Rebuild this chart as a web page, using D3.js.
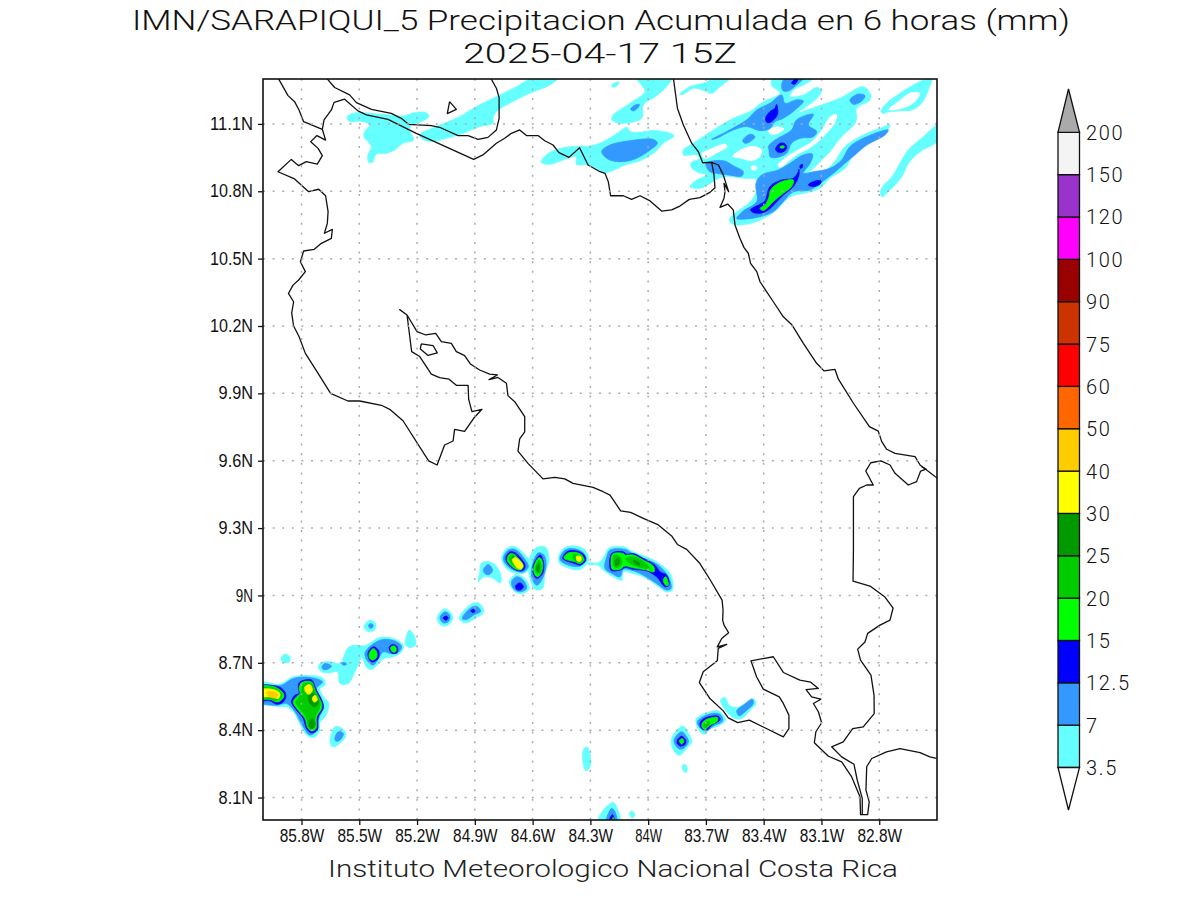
<!DOCTYPE html>
<html><head><meta charset="utf-8">
<script src="https://cdn.jsdelivr.net/npm/d3@7"></script>
<style>html,body{margin:0;background:#fff}svg{display:block}</style>
</head><body><svg id="c" width="1200" height="900"></svg>
<script>
const titleLine1="IMN/SARAPIQUI_5 Precipitacion Acumulada en 6 horas (mm)";
const titleLine2="2025-04-17 15Z";
const footerText="Instituto Meteorologico Nacional Costa Rica";
const xTicks=[-85.8,-85.5,-85.2,-84.9,-84.6,-84.3,-84,-83.7,-83.4,-83.1,-82.8];
const yTicks=[8.1,8.4,8.7,9,9.3,9.6,9.9,10.2,10.5,10.8,11.1];
const legendLabels=["3.5","7","12.5","15","20","25","30","40","50","60","75","90","100","120","150","200"];
const legendColors=["#66FFFF","#3399FF","#0000FF","#00FF00","#00CC00","#009900","#FFFF00","#FFCC00","#FF6600","#FF0000","#CC3300","#990000","#FF00FF","#9933CC","#F4F4F4"];

/* coast and border lines, lon/lat */
const lake=[[-85.671,11.305],[-85.628,11.262],[-85.55,11.229],[-85.515,11.195],[-85.437,11.165],[-85.334,11.147],[-85.282,11.125],[-85.244,11.098],[-85.126,11.092],[-85.083,11.085],[-84.987,11.048],[-84.935,11.048],[-84.883,11.031],[-84.832,11.04],[-84.788,11.073],[-84.774,11.125],[-84.774,11.217],[-84.788,11.259],[-84.818,11.305]];
const lakeIsland=[[-85.031,11.199],[-84.996,11.165],[-85.043,11.146],[-85.031,11.199]];
const chiraIsland=[[-85.178,10.12],[-85.117,10.113],[-85.095,10.08],[-85.143,10.069],[-85.183,10.098],[-85.178,10.12]];
const coastNicaragua=[[-85.922,11.305],[-85.87,11.226],[-85.836,11.199],[-85.813,11.162],[-85.789,11.11],[-85.692,11.076]];
const borderNorth=[[-85.692,11.076],[-85.683,11.118],[-85.645,11.162],[-85.631,11.196],[-85.576,11.21],[-85.507,11.158],[-85.463,11.14],[-85.351,11.12],[-85.204,11.058],[-84.906,10.942],[-84.858,10.962],[-84.788,11.014],[-84.745,11.036],[-84.71,11.058],[-84.667,11.073],[-84.632,11.048],[-84.572,11.048],[-84.537,11.025],[-84.494,11.006],[-84.463,10.972],[-84.411,10.951],[-84.356,10.994],[-84.312,10.917],[-84.25,10.887],[-84.224,10.88],[-84.207,10.843],[-84.195,10.78],[-84.129,10.78],[-84.086,10.764],[-84.042,10.78],[-83.99,10.757],[-83.93,10.712],[-83.878,10.717],[-83.835,10.734],[-83.786,10.764],[-83.731,10.772],[-83.679,10.795],[-83.653,10.816],[-83.658,10.873],[-83.67,10.929]];
const coastCaribbean=[[-83.869,11.305],[-83.848,11.17],[-83.817,11.095],[-83.774,11.014],[-83.739,10.976],[-83.717,10.927],[-83.67,10.929],[-83.635,10.917],[-83.61,10.873],[-83.582,10.798],[-83.606,10.835],[-83.601,10.798],[-83.606,10.769],[-83.627,10.728],[-83.587,10.743],[-83.558,10.717],[-83.549,10.65],[-83.523,10.59],[-83.502,10.549],[-83.48,10.524],[-83.468,10.479],[-83.436,10.442],[-83.419,10.397],[-83.385,10.353],[-83.35,10.308],[-83.298,10.241],[-83.255,10.207],[-83.194,10.123],[-83.125,10.034],[-83.087,10],[-83.03,10.007],[-83.012,9.963],[-82.934,9.856],[-82.851,9.752],[-82.805,9.732],[-82.787,9.685],[-82.761,9.651],[-82.718,9.633],[-82.614,9.618],[-82.588,9.581],[-82.498,9.522]];
const coastPacific=[[-85.692,11.076],[-85.675,11.028],[-85.72,11.048],[-85.752,11.021],[-85.714,10.991],[-85.692,10.959],[-85.718,10.921],[-85.775,10.932],[-85.815,10.914],[-85.853,10.942],[-85.922,10.887],[-85.836,10.855],[-85.763,10.798],[-85.711,10.809],[-85.675,10.78],[-85.662,10.709],[-85.666,10.657],[-85.681,10.613],[-85.64,10.63],[-85.645,10.59],[-85.697,10.568],[-85.735,10.541],[-85.789,10.534],[-85.806,10.486],[-85.78,10.442],[-85.815,10.405],[-85.844,10.382],[-85.868,10.345],[-85.841,10.308],[-85.851,10.257],[-85.841,10.2],[-85.813,10.153],[-85.78,10.078],[-85.714,9.989],[-85.649,9.9],[-85.559,9.866],[-85.498,9.866],[-85.385,9.847],[-85.342,9.829],[-85.273,9.778],[-85.14,9.599],[-85.096,9.581],[-85.057,9.67],[-85.013,9.688],[-85.005,9.74],[-84.953,9.731],[-84.906,9.789],[-84.863,9.829],[-84.915,9.819],[-84.932,9.873],[-84.935,9.936],[-84.996,9.936],[-85.034,9.963],[-85.083,9.97],[-85.126,9.986],[-85.186,10.064],[-85.228,10.086],[-85.252,10.249],[-85.29,10.273],[-85.252,10.249],[-85.2,10.175],[-85.155,10.16],[-85.103,10.167],[-85.074,10.13],[-85.022,10.123],[-84.996,10.086],[-84.953,10.068],[-84.923,10.031],[-84.875,10.004],[-84.823,9.986],[-84.783,9.982],[-84.826,9.961],[-84.78,9.971],[-84.736,9.945],[-84.728,9.89],[-84.693,9.863],[-84.641,9.796],[-84.641,9.729],[-84.667,9.697],[-84.676,9.643],[-84.624,9.588],[-84.546,9.519],[-84.485,9.526],[-84.433,9.519],[-84.39,9.499],[-84.286,9.481],[-84.234,9.462],[-84.198,9.447],[-84.143,9.377],[-84.091,9.37],[-84.025,9.343],[-83.947,9.314],[-83.878,9.265],[-83.848,9.227],[-83.8,9.205],[-83.731,9.142],[-83.679,9.071],[-83.616,8.979],[-83.611,8.935],[-83.613,8.89],[-83.606,8.868],[-83.582,8.834],[-83.618,8.808],[-83.641,8.771],[-83.592,8.782],[-83.636,8.764],[-83.641,8.709],[-83.714,8.66],[-83.734,8.612],[-83.679,8.541],[-83.61,8.486],[-83.584,8.455],[-83.535,8.434],[-83.475,8.445],[-83.298,8.37],[-83.269,8.407],[-83.269,8.467],[-83.298,8.519],[-83.319,8.548],[-83.402,8.583],[-83.437,8.638],[-83.466,8.709],[-83.35,8.727],[-83.298,8.657],[-83.212,8.623],[-83.156,8.614],[-83.116,8.586],[-83.18,8.581],[-83.151,8.548],[-83.103,8.538],[-83.142,8.519],[-83.116,8.482],[-83.099,8.433],[-83.129,8.393],[-83.137,8.344],[-83.064,8.284],[-82.995,8.259],[-82.943,8.192],[-82.9,8.103],[-82.897,8.024],[-82.86,8.024],[-82.852,8.081],[-82.869,8.133],[-82.865,8.237],[-82.839,8.274],[-82.762,8.303],[-82.692,8.318],[-82.588,8.3],[-82.537,8.281],[-82.502,8.274]];
const borderPanama=[[-82.888,8.024],[-82.888,8.096],[-82.914,8.177],[-82.931,8.248],[-82.995,8.281],[-83.047,8.326],[-82.987,8.348],[-82.938,8.407],[-82.883,8.415],[-82.826,8.474],[-82.827,8.556],[-82.843,8.645],[-82.897,8.712],[-82.912,8.761],[-82.874,8.793],[-82.86,8.831],[-82.796,8.868],[-82.744,8.89],[-82.728,8.944],[-82.77,8.993],[-82.848,9.042],[-82.936,9.064],[-82.934,9.202],[-82.934,9.44],[-82.903,9.477],[-82.865,9.492],[-82.831,9.492],[-82.87,9.554],[-82.844,9.591],[-82.791,9.599],[-82.744,9.581],[-82.718,9.544],[-82.649,9.492],[-82.606,9.507],[-82.585,9.554],[-82.557,9.563],[-82.58,9.573]];
const coastLines=[lake,lakeIsland,chiraIsland,coastNicaragua,borderNorth,coastCaribbean,coastPacific,borderPanama];

/* rainfall areas, lon/lat, one list per lower class bound */
const rain3p5=[
[[-85.562,11.132],[-85.533,11.147],[-85.498,11.15],[-85.351,11.14],[-85.273,11.135],[-85.212,11.15],[-85.152,11.15],[-85.14,11.132],[-85.178,11.11],[-85.23,11.095],[-85.238,11.073],[-85.218,11.028],[-85.273,11.014],[-85.316,10.984],[-85.36,10.969],[-85.411,10.966],[-85.432,10.929],[-85.451,10.929],[-85.455,10.962],[-85.437,10.999],[-85.475,11.043],[-85.472,11.066],[-85.446,11.095],[-85.498,11.113],[-85.55,11.11]],
[[-84.468,11.305],[-84.511,11.273],[-84.615,11.236],[-84.719,11.192],[-84.788,11.155],[-84.806,11.125],[-84.806,11.103],[-84.875,11.088],[-84.961,11.058],[-85.048,11.036],[-85.126,11.021],[-85.178,11.036],[-85.186,11.051],[-85.1,11.088],[-84.979,11.132],[-84.892,11.177],[-84.788,11.221],[-84.684,11.266],[-84.598,11.305]],
[[-84.555,10.929],[-84.529,10.962],[-84.468,10.988],[-84.399,10.999],[-84.295,11.003],[-84.25,11.014],[-84.189,11.043],[-84.137,11.073],[-84.112,11.085],[-84.086,11.063],[-83.956,11.07],[-83.866,11.048],[-83.921,11.014],[-83.964,10.976],[-84.034,10.939],[-84.12,10.917],[-84.198,10.887],[-84.224,10.883],[-84.312,10.917],[-84.373,10.92],[-84.373,10.954],[-84.442,10.939],[-84.511,10.92]],
[[-84.189,11.273],[-84.155,11.288],[-84.155,11.276],[-84.181,11.263]],
[[-84.06,11.305],[-83.921,11.305],[-83.878,11.305],[-83.904,11.266],[-83.964,11.221],[-84.025,11.184],[-84.034,11.125],[-84.146,11.103],[-84.189,11.118],[-84.181,11.14],[-84.094,11.192],[-84.016,11.244],[-84.034,11.273]],
[[-83.835,11.232],[-83.783,11.266],[-83.713,11.281],[-83.644,11.305],[-83.575,11.305],[-83.627,11.266],[-83.67,11.236],[-83.696,11.244],[-83.765,11.259],[-83.817,11.232]],
[[-83.817,10.984],[-83.765,11.014],[-83.661,11.073],[-83.558,11.125],[-83.471,11.155],[-83.402,11.199],[-83.359,11.214],[-83.315,11.236],[-83.359,11.273],[-83.35,11.305],[-83.142,11.305],[-83.194,11.273],[-83.246,11.251],[-83.263,11.221],[-83.194,11.229],[-83.125,11.262],[-83.099,11.251],[-83.116,11.221],[-83.177,11.177],[-83.229,11.147],[-83.125,11.177],[-83.004,11.214],[-82.882,11.266],[-82.848,11.236],[-82.848,11.207],[-82.917,11.17],[-82.921,11.11],[-83.004,11.036],[-83.056,10.976],[-83.108,10.932],[-83.142,10.902],[-83.177,10.873],[-83.116,10.873],[-83.038,10.925],[-82.978,10.999],[-82.882,11.051],[-82.796,11.08],[-82.744,11.095],[-82.779,11.051],[-82.865,11.006],[-82.934,10.962],[-82.978,10.902],[-83.056,10.858],[-83.108,10.813],[-83.194,10.791],[-83.263,10.776],[-83.333,10.717],[-83.402,10.679],[-83.471,10.657],[-83.558,10.653],[-83.578,10.672],[-83.54,10.709],[-83.488,10.739],[-83.445,10.783],[-83.436,10.85],[-83.506,10.858],[-83.61,10.865],[-83.731,10.813],[-83.783,10.821],[-83.748,10.85],[-83.696,10.873],[-83.748,10.887],[-83.779,10.91],[-83.774,10.929],[-83.731,10.947],[-83.748,10.962],[-83.817,10.962]],
[[-82.791,11.155],[-82.761,11.192],[-82.692,11.236],[-82.606,11.281],[-82.528,11.305],[-82.545,11.251],[-82.58,11.192],[-82.632,11.162],[-82.709,11.158],[-82.761,11.152],[-82.782,11.147]],
[[-82.787,10.776],[-82.791,10.806],[-82.727,10.873],[-82.683,10.939],[-82.649,10.984],[-82.571,11.043],[-82.493,11.095],[-82.493,11.028],[-82.588,10.976],[-82.649,10.924],[-82.683,10.865],[-82.744,10.806]],
[[-86.016,8.611],[-85.912,8.605],[-85.843,8.638],[-85.739,8.642],[-85.687,8.63],[-85.678,8.6],[-85.704,8.586],[-85.687,8.549],[-85.658,8.519],[-85.678,8.459],[-85.704,8.437],[-85.708,8.393],[-85.739,8.367],[-85.774,8.378],[-85.8,8.415],[-85.843,8.482],[-85.878,8.504],[-85.912,8.504],[-85.964,8.511],[-86.016,8.519]],
[[-85.907,8.719],[-85.886,8.739],[-85.86,8.727],[-85.864,8.704],[-85.891,8.7]],
[[-85.713,8.685],[-85.687,8.704],[-85.644,8.704],[-85.601,8.697],[-85.557,8.768],[-85.514,8.779],[-85.471,8.776],[-85.393,8.813],[-85.324,8.808],[-85.272,8.779],[-85.28,8.749],[-85.324,8.727],[-85.375,8.719],[-85.401,8.697],[-85.436,8.67],[-85.462,8.679],[-85.488,8.727],[-85.5,8.704],[-85.523,8.66],[-85.557,8.608],[-85.601,8.608],[-85.613,8.66],[-85.661,8.655],[-85.696,8.66]],
[[-85.476,8.863],[-85.445,8.89],[-85.415,8.875],[-85.419,8.848],[-85.445,8.838],[-85.466,8.846]],
[[-85.26,8.801],[-85.241,8.845],[-85.216,8.823],[-85.208,8.779],[-85.237,8.768],[-85.26,8.779]],
[[-85.652,8.348],[-85.627,8.415],[-85.592,8.41],[-85.569,8.378],[-85.601,8.341],[-85.639,8.326]],
[[-85.095,8.905],[-85.055,8.941],[-85.017,8.912],[-85.021,8.883],[-85.055,8.863],[-85.085,8.875]],
[[-84.981,8.897],[-84.925,8.957],[-84.882,8.967],[-84.853,8.927],[-84.891,8.902],[-84.951,8.878]],
[[-84.874,9.105],[-84.865,9.145],[-84.813,9.147],[-84.775,9.113],[-84.762,9.07],[-84.77,9.056],[-84.804,9.076],[-84.853,9.083],[-84.882,9.061]],
[[-84.761,9.165],[-84.735,9.209],[-84.691,9.217],[-84.639,9.18],[-84.613,9.15],[-84.631,9.105],[-84.683,9.098],[-84.735,9.12]],
[[-84.613,9.172],[-84.587,9.209],[-84.536,9.217],[-84.515,9.165],[-84.536,9.098],[-84.549,9.031],[-84.587,9.027],[-84.613,9.076],[-84.622,9.128]],
[[-84.721,9.061],[-84.691,9.091],[-84.639,9.076],[-84.617,9.031],[-84.648,9.009],[-84.691,9.016]],
[[-84.466,9.165],[-84.44,9.209],[-84.388,9.221],[-84.328,9.202],[-84.31,9.157],[-84.354,9.116],[-84.406,9.12],[-84.458,9.142]],
[[-84.31,9.145],[-84.259,9.145],[-84.224,9.18],[-84.207,9.209],[-84.129,9.217],[-84.077,9.194],[-84.008,9.172],[-83.956,9.15],[-83.886,9.098],[-83.874,9.024],[-83.904,9.016],[-83.947,9.039],[-84.008,9.076],[-84.077,9.098],[-84.129,9.105],[-84.137,9.068],[-84.181,9.083],[-84.233,9.113],[-84.259,9.135],[-84.31,9.137]],
[[-84.337,8.311],[-84.319,8.326],[-84.302,8.296],[-84.302,8.237],[-84.323,8.219],[-84.337,8.251]],
[[-83.878,8.363],[-83.843,8.407],[-83.817,8.418],[-83.786,8.378],[-83.774,8.348],[-83.8,8.318],[-83.835,8.289],[-83.856,8.296],[-83.878,8.333]],
[[-83.823,8.241],[-83.809,8.248],[-83.797,8.229],[-83.804,8.21],[-83.817,8.219]],
[[-83.752,8.445],[-83.731,8.464],[-83.679,8.482],[-83.636,8.486],[-83.598,8.445],[-83.636,8.418],[-83.679,8.407],[-83.705,8.382],[-83.731,8.393]],
[[-83.624,8.534],[-83.601,8.545],[-83.579,8.511],[-83.54,8.501],[-83.497,8.519],[-83.457,8.541],[-83.44,8.519],[-83.463,8.496],[-83.515,8.452],[-83.549,8.452],[-83.592,8.482]],
[[-84.259,7.99],[-84.233,8.044],[-84.181,8.078],[-84.164,8.058],[-84.146,7.99]],
[[-84.098,8.029],[-84.086,8.039],[-84.068,8.024],[-84.082,8.009]]
];
const rainGaps=[
[[-83.722,10.969],[-83.67,10.991],[-83.601,11.011],[-83.587,10.999],[-83.644,10.969],[-83.705,10.944]],
[[-83.563,10.954],[-83.523,10.984],[-83.454,11.002],[-83.41,10.984],[-83.419,10.954],[-83.462,10.935],[-83.523,10.947]],
[[-83.468,10.91],[-83.44,10.914],[-83.433,10.899],[-83.457,10.892]],
[[-83.376,11.069],[-83.333,11.088],[-83.294,11.077],[-83.333,11.054],[-83.367,11.054]],
[[-83.327,10.917],[-83.281,10.954],[-83.211,10.991],[-83.151,11.021],[-83.099,11.073],[-83.056,11.132],[-83.021,11.143],[-83.03,11.103],[-83.073,11.058],[-83.116,11.021],[-83.177,10.984],[-83.229,10.962],[-83.281,10.925],[-83.315,10.905]],
[[-82.753,11.162],[-82.692,11.207],[-82.632,11.241],[-82.588,11.236],[-82.614,11.199],[-82.675,11.17]]
];
const rain7=[
[[-83.67,11.031],[-83.592,11.066],[-83.488,11.118],[-83.436,11.162],[-83.367,11.192],[-83.307,11.229],[-83.289,11.192],[-83.229,11.207],[-83.194,11.202],[-83.237,11.162],[-83.298,11.125],[-83.341,11.11],[-83.367,11.08],[-83.419,11.07],[-83.488,11.088],[-83.558,11.073],[-83.644,11.036]],
[[-83.376,10.999],[-83.341,11.028],[-83.255,11.073],[-83.229,11.118],[-83.142,11.143],[-83.168,11.095],[-83.125,11.066],[-83.142,11.043],[-83.211,11.036],[-83.255,11.014],[-83.281,10.969],[-83.333,10.95],[-83.367,10.954],[-83.372,10.984]],
[[-83.509,11.025],[-83.471,11.054],[-83.445,11.043],[-83.471,11.021],[-83.497,11.014]],
[[-83.307,11.266],[-83.289,11.305],[-83.194,11.305],[-83.229,11.273],[-83.272,11.247],[-83.298,11.247]],
[[-82.952,11.207],[-82.908,11.233],[-82.874,11.226],[-82.891,11.202],[-82.934,11.187]],
[[-83.7,10.924],[-83.61,10.936],[-83.558,10.914],[-83.506,10.887],[-83.514,10.868],[-83.584,10.873],[-83.644,10.88],[-83.679,10.887]],
[[-83.54,10.679],[-83.506,10.712],[-83.436,10.754],[-83.44,10.835],[-83.41,10.873],[-83.324,10.895],[-83.263,10.925],[-83.194,10.962],[-83.146,10.965],[-83.159,10.925],[-83.194,10.88],[-83.142,10.887],[-83.056,10.902],[-82.995,10.939],[-82.952,10.999],[-82.865,11.043],[-82.753,11.073],[-82.77,11.051],[-82.865,11.006],[-82.926,10.962],[-82.978,10.925],[-83.038,10.88],[-83.108,10.835],[-83.159,10.806],[-83.246,10.798],[-83.298,10.754],[-83.35,10.709],[-83.419,10.687],[-83.488,10.677]],
[[-84.241,10.979],[-84.198,11.006],[-84.094,11.025],[-83.973,11.031],[-83.952,11.014],[-83.99,10.984],[-84.06,10.947],[-84.129,10.932],[-84.198,10.939],[-84.233,10.962]],
[[-84.091,11.165],[-84.068,11.184],[-84.046,11.187],[-84.051,11.174],[-84.077,11.158]],
[[-86.016,8.593],[-85.903,8.6],[-85.843,8.63],[-85.756,8.635],[-85.691,8.615],[-85.722,8.586],[-85.704,8.534],[-85.687,8.511],[-85.713,8.445],[-85.722,8.4],[-85.756,8.378],[-85.791,8.415],[-85.834,8.482],[-85.878,8.519],[-85.929,8.511],[-86.016,8.526]],
[[-85.694,8.682],[-85.678,8.697],[-85.644,8.685],[-85.67,8.67],[-85.687,8.67]],
[[-85.592,8.697],[-85.575,8.701],[-85.566,8.693],[-85.583,8.69]],
[[-85.471,8.742],[-85.436,8.779],[-85.375,8.804],[-85.306,8.794],[-85.28,8.771],[-85.306,8.742],[-85.341,8.742],[-85.375,8.749],[-85.401,8.719],[-85.427,8.69],[-85.453,8.704]],
[[-85.453,8.865],[-85.44,8.875],[-85.427,8.865],[-85.44,8.853]],
[[-85.627,8.363],[-85.609,8.393],[-85.583,8.385],[-85.601,8.355],[-85.621,8.351]],
[[-85.081,8.902],[-85.055,8.927],[-85.029,8.909],[-85.038,8.883],[-85.064,8.878]],
[[-84.965,8.897],[-84.925,8.942],[-84.891,8.952],[-84.87,8.93],[-84.908,8.912],[-84.943,8.893]],
[[-84.856,9.113],[-84.83,9.138],[-84.808,9.113],[-84.825,9.093],[-84.848,9.098]],
[[-84.752,9.165],[-84.726,9.202],[-84.691,9.205],[-84.639,9.16],[-84.622,9.128],[-84.648,9.105],[-84.691,9.11],[-84.735,9.135]],
[[-84.596,9.15],[-84.57,9.19],[-84.541,9.18],[-84.53,9.135],[-84.553,9.068],[-84.579,9.046],[-84.605,9.083]],
[[-84.709,9.061],[-84.683,9.083],[-84.648,9.068],[-84.631,9.031],[-84.665,9.016],[-84.7,9.031]],
[[-84.458,9.165],[-84.432,9.202],[-84.388,9.209],[-84.336,9.19],[-84.323,9.157],[-84.354,9.131],[-84.397,9.131],[-84.449,9.15]],
[[-84.224,9.12],[-84.215,9.172],[-84.198,9.202],[-84.12,9.205],[-84.077,9.184],[-84.008,9.16],[-83.947,9.135],[-83.895,9.083],[-83.881,9.031],[-83.904,9.024],[-83.956,9.053],[-84.016,9.086],[-84.077,9.11],[-84.129,9.116],[-84.146,9.083],[-84.189,9.098]],
[[-83.866,8.355],[-83.826,8.393],[-83.8,8.37],[-83.791,8.348],[-83.817,8.318],[-83.843,8.318]],
[[-83.745,8.437],[-83.722,8.456],[-83.67,8.474],[-83.627,8.471],[-83.613,8.442],[-83.662,8.418],[-83.696,8.397],[-83.727,8.407]],
[[-83.54,8.486],[-83.506,8.511],[-83.459,8.537],[-83.454,8.519],[-83.497,8.482],[-83.527,8.464]],
[[-84.216,7.99],[-84.19,8.051],[-84.172,8.036],[-84.164,7.99]]
];
const rain12p5=[
[[-83.39,11.125],[-83.367,11.155],[-83.341,11.17],[-83.333,11.187],[-83.327,11.147],[-83.341,11.125],[-83.367,11.107],[-83.384,11.107]],
[[-83.338,10.988],[-83.315,11.014],[-83.289,11.011],[-83.281,10.991],[-83.307,10.973],[-83.329,10.976]],
[[-83.468,10.717],[-83.419,10.742],[-83.393,10.757],[-83.367,10.821],[-83.307,10.85],[-83.246,10.858],[-83.22,10.887],[-83.217,10.898],[-83.217,10.873],[-83.246,10.821],[-83.298,10.783],[-83.341,10.746],[-83.376,10.717],[-83.419,10.702],[-83.454,10.706]],
[[-83.168,10.828],[-83.142,10.843],[-83.102,10.846],[-83.108,10.831],[-83.142,10.821]],
[[-83.211,10.914],[-83.199,10.92],[-83.199,10.907],[-83.21,10.902]],
[[-83.255,11.281],[-83.229,11.305],[-83.22,11.305],[-83.237,11.278]],
[[-86.016,8.596],[-85.955,8.6],[-85.903,8.586],[-85.881,8.556],[-85.895,8.526],[-85.929,8.516],[-85.964,8.531],[-86.016,8.534]],
[[-85.817,8.593],[-85.808,8.615],[-85.748,8.623],[-85.73,8.593],[-85.722,8.578],[-85.691,8.526],[-85.687,8.497],[-85.713,8.459],[-85.718,8.4],[-85.748,8.388],[-85.774,8.407],[-85.791,8.452],[-85.826,8.489],[-85.852,8.526],[-85.834,8.556],[-85.813,8.563]],
[[-85.453,8.749],[-85.427,8.771],[-85.401,8.756],[-85.401,8.719],[-85.436,8.704],[-85.453,8.727]],
[[-85.344,8.771],[-85.324,8.782],[-85.303,8.771],[-85.303,8.746],[-85.327,8.742],[-85.341,8.753]],
[[-85.064,8.9],[-85.05,8.908],[-85.038,8.9],[-85.05,8.89]],
[[-84.92,8.933],[-84.905,8.938],[-84.9,8.927],[-84.913,8.924]],
[[-84.688,9.042],[-84.665,9.056],[-84.648,9.039],[-84.665,9.024],[-84.683,9.027]],
[[-84.738,9.172],[-84.717,9.194],[-84.691,9.19],[-84.639,9.135],[-84.648,9.113],[-84.674,9.11],[-84.709,9.125],[-84.735,9.15]],
[[-84.596,9.135],[-84.561,9.18],[-84.544,9.15],[-84.548,9.098],[-84.579,9.076],[-84.596,9.098]],
[[-84.444,9.165],[-84.423,9.194],[-84.38,9.199],[-84.336,9.184],[-84.324,9.157],[-84.354,9.135],[-84.38,9.142],[-84.432,9.157]],
[[-84.198,9.12],[-84.189,9.187],[-84.129,9.194],[-84.111,9.184],[-84.077,9.187],[-84.025,9.165],[-83.964,9.135],[-83.938,9.105],[-83.904,9.091],[-83.892,9.046],[-83.912,9.039],[-83.956,9.083],[-84.008,9.11],[-84.077,9.116],[-84.12,9.125],[-84.146,9.113],[-84.189,9.11]],
[[-83.849,8.355],[-83.826,8.373],[-83.805,8.355],[-83.809,8.336],[-83.831,8.329],[-83.849,8.341]],
[[-83.731,8.43],[-83.71,8.452],[-83.636,8.462],[-83.627,8.447],[-83.67,8.422],[-83.696,8.4],[-83.722,8.407]],
[[-84.202,7.99],[-84.186,8.024],[-84.176,7.99]]
];
const rain15=[
[[-83.419,10.724],[-83.393,10.739],[-83.372,10.776],[-83.364,10.806],[-83.315,10.84],[-83.246,10.85],[-83.255,10.821],[-83.298,10.791],[-83.35,10.754],[-83.384,10.724],[-83.405,10.714]],
[[-83.315,10.999],[-83.294,11.002],[-83.294,10.994],[-83.313,10.993]],
[[-86.016,8.593],[-85.955,8.596],[-85.909,8.578],[-85.891,8.552],[-85.921,8.526],[-85.964,8.537],[-86.016,8.541]],
[[-85.812,8.586],[-85.8,8.611],[-85.748,8.615],[-85.73,8.578],[-85.696,8.519],[-85.696,8.497],[-85.722,8.459],[-85.725,8.407],[-85.748,8.396],[-85.768,8.412],[-85.782,8.452],[-85.817,8.489],[-85.843,8.526],[-85.826,8.548],[-85.808,8.563]],
[[-85.448,8.742],[-85.427,8.764],[-85.41,8.749],[-85.41,8.724],[-85.433,8.712],[-85.448,8.724]],
[[-85.337,8.768],[-85.32,8.776],[-85.308,8.764],[-85.311,8.749],[-85.329,8.749]],
[[-84.731,9.169],[-84.714,9.187],[-84.691,9.18],[-84.648,9.131],[-84.657,9.116],[-84.683,9.116],[-84.714,9.135],[-84.729,9.15]],
[[-84.593,9.128],[-84.565,9.169],[-84.549,9.15],[-84.553,9.105],[-84.575,9.083],[-84.591,9.098]],
[[-84.437,9.168],[-84.42,9.187],[-84.38,9.192],[-84.345,9.18],[-84.333,9.157],[-84.357,9.142],[-84.38,9.15],[-84.432,9.162]],
[[-84.191,9.128],[-84.184,9.184],[-84.129,9.187],[-84.12,9.18],[-84.077,9.18],[-84.025,9.157],[-83.973,9.131],[-83.969,9.105],[-84.008,9.113],[-84.077,9.123],[-84.12,9.131],[-84.146,9.117],[-84.184,9.116]],
[[-83.921,9.068],[-83.909,9.083],[-83.895,9.046],[-83.909,9.046]],
[[-83.838,8.352],[-83.823,8.363],[-83.814,8.348],[-83.826,8.338]],
[[-83.721,8.427],[-83.7,8.447],[-83.639,8.456],[-83.644,8.437],[-83.679,8.422],[-83.705,8.403],[-83.719,8.412]],
[[-84.191,7.99],[-84.181,8.011],[-84.176,7.99]]
];
const rain20=[
[[-86.016,8.586],[-85.947,8.589],[-85.912,8.571],[-85.903,8.551],[-85.929,8.534],[-85.973,8.541],[-86.016,8.549]],
[[-85.8,8.578],[-85.791,8.605],[-85.748,8.608],[-85.725,8.563],[-85.704,8.526],[-85.708,8.497],[-85.73,8.459],[-85.73,8.415],[-85.753,8.404],[-85.765,8.422],[-85.777,8.459],[-85.817,8.504],[-85.829,8.526],[-85.812,8.548]],
[[-84.722,9.165],[-84.709,9.18],[-84.665,9.142],[-84.657,9.123],[-84.683,9.123],[-84.709,9.142]],
[[-84.584,9.128],[-84.567,9.157],[-84.556,9.135],[-84.565,9.098],[-84.584,9.105]],
[[-84.388,9.184],[-84.354,9.175],[-84.34,9.157],[-84.362,9.147],[-84.385,9.157]],
[[-84.181,9.157],[-84.175,9.18],[-84.146,9.172],[-84.137,9.142],[-84.155,9.125],[-84.177,9.128]],
[[-84.117,9.165],[-84.077,9.172],[-84.016,9.145],[-83.99,9.12],[-84.042,9.125],[-84.094,9.142]],
[[-83.714,8.422],[-83.696,8.437],[-83.679,8.437],[-83.696,8.412],[-83.708,8.412]]
];
const rain25=[
[[-85.765,8.556],[-85.739,8.563],[-85.713,8.526],[-85.73,8.504],[-85.756,8.519]],
[[-85.76,8.437],[-85.742,8.452],[-85.73,8.43],[-85.742,8.407],[-85.76,8.415]],
[[-84.703,9.172],[-84.691,9.169],[-84.665,9.125],[-84.683,9.128],[-84.703,9.154]],
[[-84.579,9.128],[-84.567,9.142],[-84.567,9.105],[-84.579,9.11]],
[[-84.172,9.157],[-84.155,9.165],[-84.149,9.142],[-84.167,9.132]],
[[-84.077,9.157],[-84.051,9.15],[-84.042,9.135],[-84.068,9.142]]
];
const rain30=[
[[-86.016,8.578],[-85.947,8.581],[-85.912,8.563],[-85.921,8.541],[-85.955,8.549],[-86.016,8.551]],
[[-85.782,8.593],[-85.756,8.603],[-85.744,8.578],[-85.76,8.56],[-85.779,8.571]],
[[-85.744,8.541],[-85.73,8.556],[-85.718,8.534],[-85.734,8.525]],
[[-84.705,9.16],[-84.691,9.169],[-84.651,9.135],[-84.662,9.117],[-84.683,9.125]],
[[-84.371,9.175],[-84.35,9.172],[-84.349,9.154],[-84.368,9.154]]
];
const rain40=[
[[-85.981,8.568],[-85.947,8.572],[-85.921,8.556],[-85.938,8.544],[-85.973,8.553]]
];
const rainByClass=[rain3p5,rain7,rain12p5,rain15,rain20,rain25,rain30,rain40];

const svg=d3.select("#c");
const x=d3.scaleLinear().domain([-86,-82.5]).range([263,937]);
const y=d3.scaleLinear().domain([8,11.3]).range([820,79]);

svg.append("defs").append("clipPath").attr("id","panel").append("rect")
  .attr("x",263).attr("y",79).attr("width",674).attr("height",741);
const map=svg.append("g").attr("clip-path","url(#panel)");

const area=d3.line().x(d=>x(d[0])).y(d=>y(d[1])).curve(d3.curveCatmullRomClosed.alpha(0.5));
const trace=d3.line().x(d=>x(d[0])).y(d=>y(d[1]));

rainByClass.forEach((rings,i)=>{
  map.append("g").selectAll("path").data(rings).join("path")
    .attr("d",area).attr("fill",legendColors[i]).attr("stroke",legendColors[i]).attr("stroke-width",0.8).attr("stroke-linejoin","round");
  if(i===0) map.append("g").selectAll("path").data(rainGaps).join("path")
    .attr("d",area).attr("fill","#fff");
});
map.append("g").selectAll("path").data(coastLines).join("path")
  .attr("d",trace).attr("fill","none").attr("stroke","#111").attr("stroke-width",1.3).attr("stroke-linejoin","round");

const grid=map.append("g").attr("stroke","#aaaaaa").attr("stroke-width",1.5).attr("stroke-dasharray","2 7.6");
grid.selectAll("line.v").data(xTicks).join("line").attr("class","v")
  .attr("x1",d=>x(d)).attr("x2",d=>x(d)).attr("y1",820).attr("y2",79);
grid.selectAll("line.h").data(yTicks).join("line").attr("class","h")
  .attr("y1",d=>y(d)).attr("y2",d=>y(d)).attr("x1",263).attr("x2",937);

const axisFont="'Liberation Sans',sans-serif";
const ax=svg.append("g").attr("transform","translate(0,820)")
  .call(d3.axisBottom(x).tickValues(xTicks).tickSize(5).tickSizeOuter(0).tickPadding(5).tickFormat(d=>Math.abs(d)+"W"));
const ay=svg.append("g").attr("transform","translate(263,0)")
  .call(d3.axisLeft(y).tickValues(yTicks).tickSize(5).tickSizeOuter(0).tickPadding(5).tickFormat(d=>d+"N"));
[ax,ay].forEach(a=>{
  a.select(".domain").remove();
  a.selectAll("line").attr("stroke","#111").attr("stroke-width",1.3);
  a.selectAll("text").attr("font-family",axisFont).attr("font-size",17.5).attr("fill","#111");
});
ax.selectAll("text").each(function(){const n=this.textContent.length;d3.select(this).attr("textLength",n*8.9).attr("lengthAdjust","spacingAndGlyphs");});
ay.selectAll("text").each(function(){const n=this.textContent.length;d3.select(this).attr("textLength",n*8.6).attr("lengthAdjust","spacingAndGlyphs");});
svg.append("rect").attr("x",263).attr("y",79).attr("width",674).attr("height",741)
  .attr("fill","none").attr("stroke","#111").attr("stroke-width",1.6);

function label(t,cx,by,size,len,col){
  svg.append("text").text(t).attr("x",cx).attr("y",by).attr("text-anchor","middle")
    .attr("font-family","Roboto,'Liberation Sans',sans-serif").attr("font-weight",300)
    .attr("font-size",size).attr("fill",col).attr("textLength",len).attr("lengthAdjust","spacingAndGlyphs");
}
label(titleLine1,601,30,28,938,"#111");
label(titleLine2,600,63,28,274,"#111");
label(footerText,613,877,24,570,"#222");

/* colour bar */
const barY=d3.scalePoint().domain(legendLabels).range([767.5,132.3]);
const bar=svg.append("g");
bar.selectAll("rect").data(legendColors).join("rect")
  .attr("x",1058).attr("width",21.5)
  .attr("y",(d,i)=>barY(legendLabels[i+1]))
  .attr("height",(d,i)=>barY(legendLabels[i])-barY(legendLabels[i+1]))
  .attr("fill",d=>d).attr("stroke","#111").attr("stroke-width",1.3);
const tri=(yb,ya)=>`M1058,${yb}L1079.5,${yb}L1068.5,${ya}Z`;
bar.append("path").attr("d",tri(barY("200"),89)).attr("fill","#AAAAAA").attr("stroke","#111").attr("stroke-width",1.3);
bar.append("path").attr("d",tri(barY("3.5"),810)).attr("fill","#fff").attr("stroke","#111").attr("stroke-width",1.3);
bar.selectAll("text").data(legendLabels).join("text").text(d=>d)
  .attr("x",1086).attr("y",d=>barY(d)+7.5)
  .attr("font-family","Roboto,'Liberation Sans',sans-serif").attr("font-weight",300)
  .attr("font-size",20).attr("letter-spacing",1.7).attr("fill","#111");
</script></body></html>
